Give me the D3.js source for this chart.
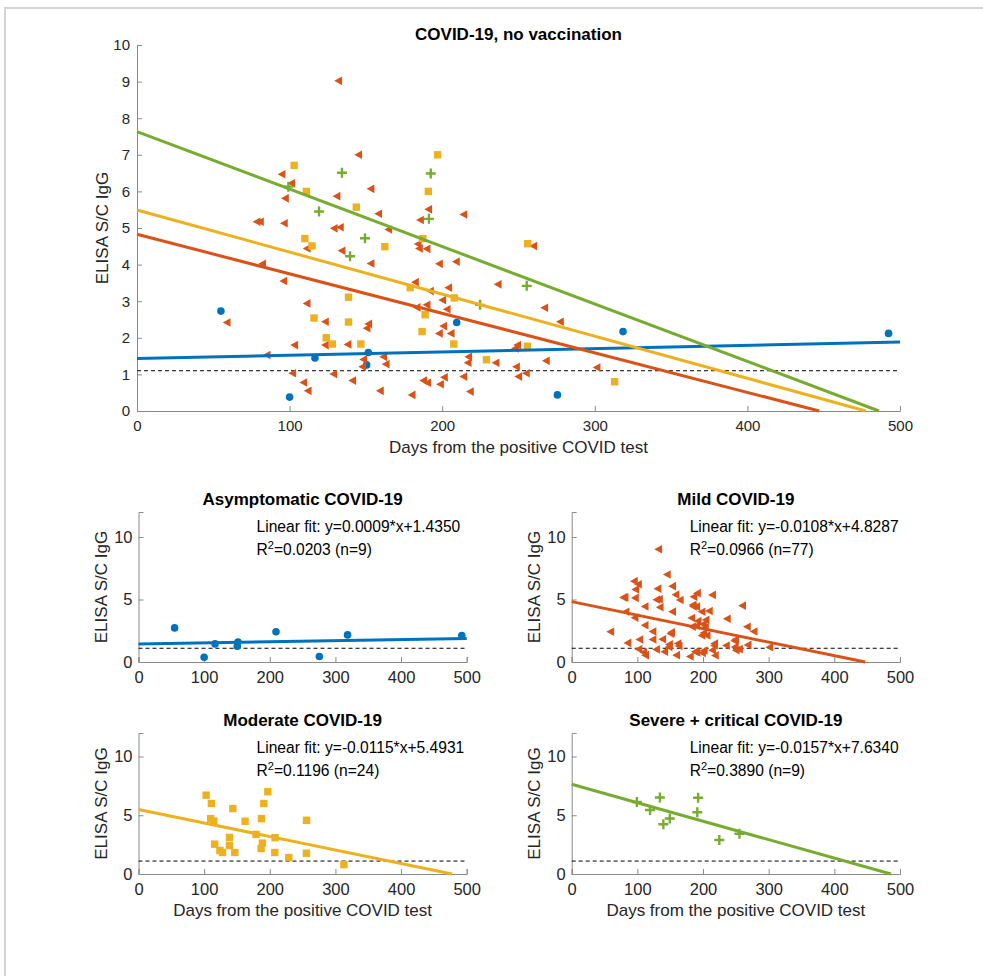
<!DOCTYPE html>
<html>
<head>
<meta charset="utf-8">
<script src="https://cdn.jsdelivr.net/npm/d3@7"></script>
<style>
  body { margin: 0; background: #fff; }
  svg { display: block; font-family: "Liberation Sans", Arial, sans-serif; }
</style>
</head>
<body>
<script>
// ---- data ----
const asymDays = [55, 100, 116.6, 150.5, 151.6, 209.5, 275.5, 318.5, 492.5];
const asymVals = [2.73, 0.38, 1.45, 1.26, 1.6, 2.42, 0.44, 2.17, 2.12];

const mildDays = [94.8, 101.1, 97, 78.4, 80.6, 96.3, 131.9, 145, 153.1, 130.8,
  158.1, 190.9, 185.5, 213.9, 129, 133, 164.7, 184, 184.8, 189.8,
  134.1, 153.1, 197.9, 209, 236.4, 182.2, 192, 204, 200.1, 183.3,
  189.8, 203, 123.2, 151.6, 150.5, 200.7, 197.9, 205.6, 123.2, 138,
  161.4, 163, 148.3, 147.6, 217.1, 216.7, 235, 247.7, 249.2, 248.4,
  128.6, 141.1, 159.2, 180, 187.6, 190.2, 198.6, 201.2, 213.9, 218.2,
  111.2, 82.1, 95.9, 111.2, 58.8, 103.1, 85, 101.8, 109, 111.9,
  259.7, 266.9, 277.2, 268, 249.9, 254.9, 301.2];
const mildVals = [6.47, 6.22, 5.81, 5.17, 5.17, 5.13, 9.02, 7.0, 6.07, 5.87,
  5.39, 5.51, 5.22, 5.37, 4.99, 5.02, 4.96, 4.56, 4.44, 4.43,
  4.38, 4.03, 4.02, 4.08, 3.46, 3.52, 3.28, 3.37, 3.03, 2.83,
  2.9, 2.78, 2.44, 2.38, 2.26, 2.32, 2.12, 2.12, 1.8, 1.82,
  1.48, 1.28, 1.41, 1.21, 1.48, 1.32, 1.32, 1.71, 1.8, 1.21,
  1.01, 0.83, 0.55, 0.44, 0.83, 0.77, 0.73, 0.92, 0.94, 0.53,
  4.44, 4.02, 3.55, 2.94, 2.42, 1.8, 1.53, 1.03, 0.78, 0.55,
  4.51, 2.82, 2.44, 1.37, 0.94, 1.03, 1.19];

const modDays = [103, 111, 110, 114.7, 116, 124, 128, 138.6, 138.6, 143.7,
  146.7, 162.4, 179, 187.3, 186.8, 188.8, 190.9, 197, 208, 207.6,
  229, 256, 255.8, 313];
const modVals = [6.71, 6.0, 4.71, 4.51, 2.54, 2.0, 1.83, 3.11, 2.43, 5.57,
  1.83, 4.49, 3.37, 4.71, 2.17, 2.63, 6.0, 7.0, 3.09, 1.83,
  1.4, 4.57, 1.77, 0.8];

const sevDays = [99.2, 119.3, 134.3, 139.6, 149.4, 192.5, 191.3, 224.8, 255.4];
const sevVals = [6.13, 5.45, 6.51, 4.23, 4.72, 6.49, 5.25, 2.9, 3.42];

const groupNames = ["Asymptomatic COVID-19", "Mild COVID-19", "Moderate COVID-19", "Severe + critical COVID-19"];
const fitSlope = [0.0009, -0.0108, -0.0115, -0.0157];
const fitIntercept = [1.4350, 4.8287, 5.4931, 7.6340];
const fitR2 = ["0.0203", "0.0966", "0.1196", "0.3890"];
const groupN = [9, 77, 24, 9];
const cutoff = 1.1;

const mainTitle = "COVID-19, no vaccination";
const xLabel = "Days from the positive COVID test";
const yLabel = "ELISA S/C IgG";
const xTicks = [0, 100, 200, 300, 400, 500];
const mainYTicks = [0, 1, 2, 3, 4, 5, 6, 7, 8, 9, 10];
const smallYTicks = [0, 5, 10];

// ---- styles ----
const colors = ["#0072BD", "#D95319", "#EDB120", "#77AC30"];
const shapes = ["circle", "triangle", "square", "plus"];
const groups = [
  {days: asymDays, vals: asymVals},
  {days: mildDays, vals: mildVals},
  {days: modDays, vals: modVals},
  {days: sevDays, vals: sevVals}
];

const W = 983, H = 976;
const svg = d3.select("body").append("svg").attr("width", W).attr("height", H);

// figure frame
svg.append("rect").attr("x", 5).attr("y", 8).attr("width", 1100).attr("height", 1100)
  .attr("fill", "none").attr("stroke", "#d4d4d4").attr("stroke-width", 2);

const textCol = "#262626", axisCol = "#8a8a8a";

function drawMarker(g, shape, color, x, y) {
  if (shape === "circle") {
    g.append("circle").attr("cx", x).attr("cy", y).attr("r", 3.8).attr("fill", color);
  } else if (shape === "square") {
    g.append("rect").attr("x", x - 3.7).attr("y", y - 3.7).attr("width", 7.4).attr("height", 7.4).attr("fill", color);
  } else if (shape === "triangle") {
    g.append("path").attr("d", `M${x - 4},${y} L${x + 3.8},${y - 4.3} L${x + 3.8},${y + 4.3} Z`).attr("fill", color);
  } else {
    g.append("path").attr("d", `M${x - 5},${y} H${x + 5} M${x},${y - 5} V${y + 5}`)
      .attr("stroke", color).attr("stroke-width", 2.4).attr("fill", "none");
  }
}

// one axes box
function panel(opt) {
  const x = d3.scaleLinear().domain([0, 500]).range([opt.x0, opt.x1]);
  const y = d3.scaleLinear().domain([0, opt.yMax]).range([opt.yb, opt.yt]);
  const g = svg.append("g");

  // axes (ticks inward)
  const xa = g.append("g").attr("transform", `translate(0,${opt.yb})`)
    .call(d3.axisBottom(x).tickValues(xTicks).tickSize(-5).tickPadding(9).tickFormat(d3.format("d")));
  const ya = g.append("g").attr("transform", `translate(${opt.x0},0)`)
    .call(d3.axisLeft(y).tickValues(opt.yTicks).tickSize(-5).tickPadding(opt.yPad).tickFormat(d3.format("d")));
  [xa, ya].forEach(a => {
    a.select(".domain").attr("stroke", axisCol);
    a.selectAll(".tick line").attr("stroke", axisCol);
    a.selectAll(".tick text").attr("fill", textCol).style("font-size", opt.tickFs + "px");
  });

  // cutoff line
  g.append("line").attr("x1", x(0)).attr("x2", x(500)).attr("y1", y(cutoff)).attr("y2", y(cutoff))
    .attr("stroke", "#000").attr("stroke-width", 1).attr("stroke-dasharray", "4,3");

  opt.idx.forEach(i => {
    const gr = groups[i];
    gr.days.forEach((d, k) => drawMarker(g, shapes[i], colors[i], x(d), y(gr.vals[k])));
  });
  opt.idx.forEach(i => {
    const m = fitSlope[i], b = fitIntercept[i];
    const xEnd = m < 0 ? Math.min(500, -b / m) : 500;
    g.append("line").attr("x1", x(0)).attr("y1", y(b)).attr("x2", x(xEnd)).attr("y2", y(b + m * xEnd))
      .attr("stroke", colors[i]).attr("stroke-width", 3);
  });

  // labels
  g.append("text").attr("x", (opt.x0 + opt.x1) / 2).attr("y", opt.titleY).attr("text-anchor", "middle")
    .attr("font-weight", "bold").style("font-size", "17px").attr("fill", "#000").text(opt.title);
  if (opt.showX) {
    g.append("text").attr("x", (opt.x0 + opt.x1) / 2).attr("y", opt.yb + 42).attr("text-anchor", "middle")
      .style("font-size", "17px").attr("fill", textCol).text(xLabel);
  }
  g.append("text").attr("transform", `translate(${opt.ylx},${(opt.yt + opt.yb) / 2}) rotate(-90)`)
    .attr("text-anchor", "middle").style("font-size", "17px").attr("fill", textCol).text(yLabel);

  if (opt.fitText !== undefined) {
    const i = opt.fitText;
    const tx = opt.x0 + 118;
    const sign = fitSlope[i] >= 0 ? "" : "-";
    g.append("text").attr("x", tx).attr("y", opt.yt + 20).style("font-size", "15.6px").attr("fill", "#000")
      .text(`Linear fit: y=${sign}${Math.abs(fitSlope[i]).toFixed(4)}*x+${fitIntercept[i].toFixed(4)}`);
    const t2 = g.append("text").attr("x", tx).attr("y", opt.yt + 43).style("font-size", "15.6px").attr("fill", "#000");
    t2.append("tspan").text("R");
    t2.append("tspan").attr("dy", -6).style("font-size", "11px").text("2");
    t2.append("tspan").attr("dy", 6).text(`=${fitR2[i]} (n=${groupN[i]})`);
  }
}

panel({x0: 137, x1: 900, yt: 45, yb: 411, yMax: 10, yTicks: mainYTicks, tickFs: 15, yPad: 7,
  idx: [0, 1, 2, 3], title: mainTitle, titleY: 40, showX: true, ylx: 108});

const small = [
  {x0: 138.5, x1: 466.7, yt: 512, yb: 662},
  {x0: 571.7, x1: 900, yt: 512, yb: 662},
  {x0: 138.5, x1: 466.7, yt: 733, yb: 874},
  {x0: 571.7, x1: 900, yt: 733, yb: 874}
];
small.forEach((s, i) => {
  panel({x0: s.x0, x1: s.x1, yt: s.yt, yb: s.yb, yMax: 12, yTicks: smallYTicks, tickFs: 16.5, yPad: 6,
    idx: [i], title: groupNames[i], titleY: s.yt - 7, showX: i >= 2, ylx: s.x0 - 32, fitText: i});
});
</script>
</body>
</html>
